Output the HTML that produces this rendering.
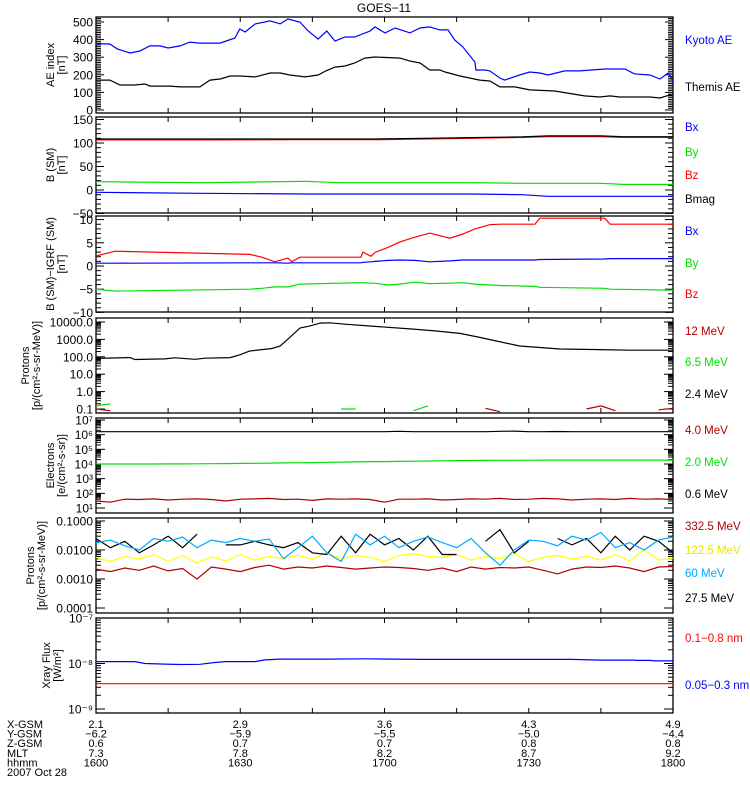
<!DOCTYPE html>
<html><head><meta charset="utf-8"><style>
body{margin:0;background:#fff;}
svg{display:block;font-family:"Liberation Sans",sans-serif;}
</style></head><body>
<svg id="chart" width="750" height="800" viewBox="0 0 750 800" xmlns="http://www.w3.org/2000/svg"></svg>
<script>
// ---------- data ----------
const xTickMinutes=[0,15,30,45,60,75,90,105,120];
const aeKyotoT=[0,2.9,4.4,7.1,9.1,11.2,13.3,15,17.5,19.5,21.6,25.8,28.9,29.9,31,33.1,36.2,38.3,39.9,42.4,43.9,46.2,48,49.7,51.8,53.8,57,58,60.1,62.2,65.3,67.4,69.4,71.5,73.2,74.6,76.3,78.8,79,80.9,81.9,84,85,88.1,90.2,92.3,94,97.5,100.6,105.8,110,112,115.2,117.3,119,120];
const aeKyotoV=[377,375,347,324,335,364,364,352,364,386,380,380,409,460,443,489,506,489,517,500,455,403,449,392,415,415,449,472,438,466,438,466,472,455,455,398,358,273,227,227,222,182,170,199,216,210,199,222,222,233,233,205,199,176,210,165];
const aeThemisT=[0,2.9,5,8.1,10.2,11.2,15.4,17.5,21.6,23.7,25.8,27.9,29.9,33.1,36.2,38.3,40.3,43.5,46.2,47.8,49.7,51.8,53.8,55.9,58,63.2,65.3,67.4,69.4,71.5,72.6,75.7,79.8,81.9,84,87.1,90.2,95.4,101.6,104.8,106.9,108.9,115.2,117.3,119.3,120];
const aeThemisV=[170,170,142,142,148,136,136,131,131,170,176,193,193,188,210,210,199,188,199,222,244,250,267,295,301,295,278,267,227,227,216,193,170,165,131,131,114,108,80,74,80,74,74,68,85,80];
const bT=[0,21.6,43.5,50.5,58,68,78,88.6,94,105,109.6,120];
const bMagV=[108.5,108.5,108.5,108.5,108.5,110,111.5,113,115,115,113.5,113.5];
const bZV=[106.5,106.5,107,107,107,108.5,110,112,113.5,113.5,112,112];
const bYV=[17.7,15.5,18.5,15.5,15.5,15.5,15.5,14.3,14.3,14.3,12,12];
const bXV=[-5,-7,-8.5,-8.5,-8.5,-8.5,-8.5,-10,-13.4,-13.4,-13.4,-13.4];
const dbT=[0,4,32,34.5,37.2,39.9,40.7,42.4,55.1,55.5,57.2,58,60.7,63.2,66.3,69.4,73.6,76.3,78.8,81.9,84,91.3,92.3,105.8,106.9,120];
const dbZV=[2.15,3.2,2.5,1.9,0.9,1.7,0.9,1.9,1.9,3.0,2.1,2.9,4,5.2,6.2,7.1,6,6.9,8,8.9,9,9,10.3,10.3,9,9];
const dbXV=[0.6,0.6,0.7,0.7,0.7,0.6,0.7,0.7,0.7,0.8,0.9,1.0,1.2,1.3,1.2,0.9,1.1,1.3,1.3,1.3,1.3,1.3,1.4,1.5,1.6,1.6];
const dbYV=[-5,-5.4,-5,-4.8,-4.5,-4.5,-4.3,-3.9,-3.6,-3.6,-3.7,-3.7,-4.1,-3.9,-3.5,-3.8,-3.7,-3.6,-3.9,-4.1,-4.2,-4.4,-4.6,-4.8,-5.0,-5.2];
const p24T=[0,7.1,8.1,14.3,16.4,20.6,22.7,27.9,29.9,32,36.6,38.3,40.3,42.4,44.5,46.6,48.6,51.8,58,65.3,70.5,75.7,79.8,88.1,96.5,104.8,111,120];
const p24V=[81,90,70,76,88,72,83,90,130,215,300,420,1300,4500,6000,8600,9000,7500,5600,4000,3100,2200,1300,420,280,260,240,240];
const grid3=[0,3,6,9,12,15,18,21,24,27,30,33,36,39,42,45,48,51,54,57,60,63,66,69,72,75,78,81,84,87,90,93,96,99,102,105,108,111,114,117,120];
const p65V=[0.15,0.2,null,null,null,0.1,null,null,0.11,null,null,0.2,null,0.15,null,null,null,0.1,0.1,null,null,null,0.08,0.15,null,0.1,null,0.12,null,null,null,0.25,null,null,null,0.12,null,null,0.2,null,0.15];
const p12V=[0.1,0.08,null,null,null,null,null,null,null,null,null,null,null,null,null,null,null,null,null,null,null,null,null,null,null,null,null,0.11,0.07,null,null,null,null,null,0.1,0.15,0.08,null,null,0.09,0.11];
const e40V=[1.6e6,1.6e6,1.6e6,1.6e6,1.6e6,1.6e6,1.6e6,1.6e6,1.6e6,1.6e6,1.6e6,1.6e6,1.6e6,1.6e6,1.6e6,1.6e6,1.6e6,1.6e6,1.6e6,1.6e6,1.6e6,1.7e6,1.6e6,1.6e6,1.6e6,1.6e6,1.6e6,1.6e6,1.7e6,1.75e6,1.6e6,1.6e6,1.65e6,1.6e6,1.6e6,1.6e6,1.6e6,1.6e6,1.6e6,1.6e6,1.6e6];
const e20V=[1.0e4,1.0e4,1.0e4,1.0e4,1.0e4,1.02e4,1.02e4,1.03e4,1.05e4,1.07e4,1.1e4,1.12e4,1.15e4,1.18e4,1.2e4,1.25e4,1.3e4,1.35e4,1.4e4,1.45e4,1.45e4,1.5e4,1.55e4,1.6e4,1.65e4,1.7e4,1.72e4,1.75e4,1.78e4,1.8e4,1.82e4,1.85e4,1.85e4,1.85e4,1.85e4,1.85e4,1.85e4,1.85e4,1.85e4,1.85e4,1.85e4];
const e06V=[30,25,40,38,42,35,40,42,38,30,40,42,45,38,40,33,42,40,42,38,25,40,40,42,35,38,42,40,45,38,40,45,42,35,40,42,38,45,40,42,38];
const h332V=[0.0022,0.0018,0.0024,0.0020,0.0028,0.0019,0.0023,0.0010,0.0026,0.0022,0.0018,0.0025,0.0030,0.0022,0.0026,0.0024,0.0028,0.0025,0.0022,0.0024,0.0026,0.0025,0.0023,0.0020,0.0024,0.0018,0.0026,0.0022,0.0025,0.0024,0.0026,0.0020,0.0015,0.0022,0.0026,0.0025,0.0028,0.0024,0.0018,0.0026,0.0027];
const h122V=[0.0055,0.0040,0.0060,0.0048,0.0070,0.0040,0.0065,0.0035,0.0058,0.0042,0.0070,0.0045,0.0060,0.0050,0.0065,0.0048,0.0080,0.0050,0.0065,0.0055,0.0040,0.0065,0.0075,0.0060,0.0055,0.0070,0.0045,0.0060,0.0050,0.0075,0.0040,0.0055,0.0065,0.0048,0.0060,0.0045,0.0070,0.0042,0.0100,0.0045,0.0052];
const h60V=[0.018,0.022,0.014,0.010,0.025,0.020,0.028,0.012,0.022,0.018,0.025,0.020,0.024,0.005,0.012,0.030,0.008,0.004,0.035,0.015,0.030,0.012,0.020,0.028,0.018,0.012,0.025,0.008,0.003,0.010,0.022,0.020,0.014,0.030,0.022,0.040,0.012,0.018,0.010,0.022,0.028];
const h27V=[0.025,0.012,0.020,0.008,0.015,0.030,0.012,0.035,null,0.015,0.015,0.020,0.015,0.012,0.018,0.008,0.007,0.030,0.008,0.035,0.015,0.025,0.010,0.030,0.007,0.007,null,0.020,0.050,0.008,0.020,null,0.025,0.015,0.025,0.008,0.030,0.010,0.030,0.020,0.008];
const xrT=[0,8.1,10.2,14.3,17.5,21.6,24.7,26.8,33.1,35.1,38.3,48,56.1,67.4,98.8,102.9,105,111.8,112.3,115.2,116.3,120];
const xrLongV=[1.1e-8,1.1e-8,1.0e-8,0.97e-8,0.95e-8,0.96e-8,1.05e-8,1.1e-8,1.1e-8,1.2e-8,1.25e-8,1.25e-8,1.27e-8,1.23e-8,1.23e-8,1.2e-8,1.19e-8,1.19e-8,1.17e-8,1.17e-8,1.14e-8,1.14e-8];
const xrShortV=[3.6e-9,3.6e-9,3.6e-9,3.6e-9,3.6e-9,3.6e-9,3.6e-9,3.6e-9,3.6e-9,3.6e-9,3.6e-9,3.6e-9,3.6e-9,3.6e-9,3.6e-9,3.6e-9,3.6e-9,3.6e-9,3.6e-9,3.6e-9,3.6e-9,3.6e-9];
const posLabels=[["X-GSM","2.1","2.9","3.6","4.3","4.9"],["Y-GSM","\u22126.2","\u22125.9","\u22125.5","\u22125.0","\u22124.4"],["Z-GSM","0.6","0.7","0.7","0.8","0.8"],["MLT","7.3","7.8","8.2","8.7","9.2"],["hhmm","1600","1630","1700","1730","1800"]];

// ---------- helpers ----------
const NS="http://www.w3.org/2000/svg";
const svg=document.getElementById('chart');
const X0=96,X1=673;
function xs(t){return X0+(X1-X0)*t/120;}
function mk(tag,attrs,parent){const e=document.createElementNS(NS,tag);for(const k in attrs)e.setAttribute(k,attrs[k]);(parent||svg).appendChild(e);return e;}
function lin(vA,yA,vB,yB){return v=>yA+(v-vA)*(yB-yA)/(vB-vA);}
function logs(vA,yA,vB,yB){const a=Math.log10(vA),b=Math.log10(vB);return v=>yA+(Math.log10(v)-a)*(yB-yA)/(b-a);}

const panels=[
 {top:17,bot:113,ys:lin(0,110,500,22),tx:60,title:["AE index","[nT]"]},
 {top:117,bot:213,ys:lin(0,190,100,143),tx:60,title:["B (SM)","[nT]"]},
 {top:216,bot:312,ys:lin(0,266,10,219.6),tx:60,title:["B (SM)\u2212IGRF (SM)","[nT]"]},
 {top:318,bot:413,ys:logs(0.1,409,10000,322),tx:35,title:["Protons","[p/(cm\u00b2-s-sr-MeV)]"]},
 {top:418,bot:513,ys:logs(10,508,1e7,420),tx:60,title:["Electrons","[e/(cm\u00b2-s-sr)]"]},
 {top:518,bot:613,ys:logs(0.1,521,0.0001,608),tx:40,title:["Protons","[p/(cm\u00b2-s-sr-MeV)]"]},
 {top:618,bot:713,ys:logs(1e-7,618,1e-9,709),tx:56,title:["Xray Flux","[W/m\u00b2]"]}
];

function frame(p,i){
 const g=mk('g',{});
 
 
 mk('clipPath',{id:'clip'+i},g);
 mk('rect',{x:X0,y:p.top,width:X1-X0,height:p.bot-p.top},document.getElementById('clip'+i));
 const r=mk('rect',{x:X0,y:p.top,width:X1-X0,height:p.bot-p.top,fill:'none',stroke:'#000','stroke-width':1.3},g);
 
 
 xTickMinutes.forEach(t=>{const x=xs(t);
  mk('line',{x1:x,x2:x,y1:p.bot,y2:p.bot-5,stroke:'#000'},g);
  mk('line',{x1:x,x2:x,y1:p.top,y2:p.top+5,stroke:'#000'},g);});
 const tt=mk('text',{transform:`translate(${p.tx},${(p.top+p.bot)/2}) rotate(-90)`,'text-anchor':'middle','font-size':11},g);
 
 
 mk('tspan',{x:0,dy:-6},tt).textContent=p.title[0];
 mk('tspan',{x:0,dy:11},tt).textContent=p.title[1];
 p.g=g;return g;
}
function ytick(p,v,len,label){const y=p.ys(v);if(y<p.top-0.5||y>p.bot+0.5)return;
 mk('line',{x1:X0,x2:X0+len,y1:y,y2:y,stroke:'#000'},p.g);
 mk('line',{x1:X1,x2:X1-len,y1:y,y2:y,stroke:'#000'},p.g);
 if(label!==undefined){const t=mk('text',{x:X0-3,y:y+4.5,'text-anchor':'end','font-size':12},p.g);t.textContent=label;
  
  }}
function linTicks(p,min,max,minor,major,fmt){for(let v=min;v<=max+1e-9;v+=minor){const isM=Math.abs(v/major-Math.round(v/major))<1e-6;ytick(p,v,isM?8:5,isM?fmt(v):undefined);}}
function logTicks(p,e0,e1,fmt){for(let e=e0;e<=e1;e++){ytick(p,Math.pow(10,e),9,fmt(e));if(e<e1)for(let m=2;m<10;m++)ytick(p,m*Math.pow(10,e),5);}}
function line(p,i,T,V,color,name){
 let d='',pen=false;T.forEach((t,k)=>{const v=V[k];if(v===null||v===undefined){pen=false;return;}
  d+=(pen?'L':'M')+xs(t).toFixed(1)+' '+p.ys(v).toFixed(1);pen=true;});
 const e=mk('path',{d:d,fill:'none',stroke:color,'stroke-width':1.2,'clip-path':`url(#clip${i})`},p.g);
 
 }
function legend(txt,y,color){const t=mk('text',{x:685,y:y+4,'font-size':11.5,fill:color});t.textContent=txt;
 
 }
const minus=s=>String(s).replace('-','\u2212');
const sup={'-':'\u207b','0':'\u2070','1':'\u00b9','2':'\u00b2','3':'\u00b3','4':'\u2074','5':'\u2075','6':'\u2076','7':'\u2077','8':'\u2078','9':'\u2079'};
const pow10=e=>'10'+String(e).split('').map(c=>sup[c]).join('');

// title
const title=mk('text',{x:384,y:12,'text-anchor':'middle','font-size':12});title.textContent='GOES\u221211';



panels.forEach(frame);
linTicks(panels[0],0,520,10,100,v=>String(v));
linTicks(panels[1],-50,150,10,50,v=>minus(v));
linTicks(panels[2],-10,10,1,5,v=>minus(v));
logTicks(panels[3],-1,4,e=>Math.pow(10,e).toFixed(1));
logTicks(panels[4],1,7,pow10);
logTicks(panels[5],-4,-1,e=>Math.pow(10,e).toFixed(4));
logTicks(panels[6],-9,-7,pow10);

line(panels[0],0,aeThemisT,aeThemisV,'#000','themis-ae-line');
line(panels[0],0,aeKyotoT,aeKyotoV,'#0000ff','kyoto-ae-line');
line(panels[1],1,bT,bZV,'#ff0000','bz-line');
line(panels[1],1,bT,bMagV,'#000','bmag-line');
line(panels[1],1,bT,bYV,'#00e000','by-line');
line(panels[1],1,bT,bXV,'#0000ff','bx-line');
line(panels[2],2,dbT,dbZV,'#ff0000','dbz-line');
line(panels[2],2,dbT,dbXV,'#0000ff','dbx-line');
line(panels[2],2,dbT,dbYV,'#00e000','dby-line');
line(panels[3],3,p24T,p24V,'#000','proton-2-4mev-line');
line(panels[3],3,grid3,p65V,'#00e000','proton-6-5mev-line');
line(panels[3],3,grid3,p12V,'#b00000','proton-12mev-line');
line(panels[4],4,grid3,e40V,'#000','electron-4mev-line');
line(panels[4],4,grid3,e20V,'#00e000','electron-2mev-line');
line(panels[4],4,grid3,e06V,'#b00000','electron-0-6mev-line');
line(panels[5],5,grid3,h332V,'#b00000','proton-332mev-line');
line(panels[5],5,grid3,h122V,'#ffff00','proton-122mev-line');
line(panels[5],5,grid3,h27V,'#000','proton-27mev-line');
line(panels[5],5,grid3,h60V,'#00aaff','proton-60mev-line');
line(panels[6],6,xrT,xrLongV,'#0000ff','xray-long-line');
line(panels[6],6,xrT,xrShortV,'#ff0000','xray-short-line');

legend('Kyoto AE',40,'#0000ff');legend('Themis AE',87,'#000');
legend('Bx',127,'#0000ff');legend('By',152,'#00e000');legend('Bz',175,'#ff0000');legend('Bmag',199,'#000');
legend('Bx',231,'#0000ff');legend('By',263,'#00e000');legend('Bz',294,'#ff0000');
legend('12 MeV',331,'#b00000');legend('6.5 MeV',362,'#00e000');legend('2.4 MeV',394,'#000');
legend('4.0 MeV',430,'#b00000');legend('2.0 MeV',462,'#00e000');legend('0.6 MeV',494,'#000');
legend('332.5 MeV',526,'#b00000');legend('122.5 MeV',550,'#e8e800');legend('60 MeV',573,'#00aaff');legend('27.5 MeV',598,'#000');
legend('0.1\u22120.8 nm',638,'#ff0000');legend('0.05\u22120.3 nm',685,'#0000ff');

posLabels.forEach((row,r)=>{const y=728+r*9.6;
 const h=mk('text',{x:7,y:y,'font-size':11});h.textContent=row[0];
 
 
 for(let k=1;k<row.length;k++){const t=mk('text',{x:xs((k-1)*30),y:y,'font-size':11,'text-anchor':'middle'});t.textContent=row[k];
  
  }});
const dt=mk('text',{x:7,y:776,'font-size':11});dt.textContent='2007 Oct 28';


</script>
</body></html>
